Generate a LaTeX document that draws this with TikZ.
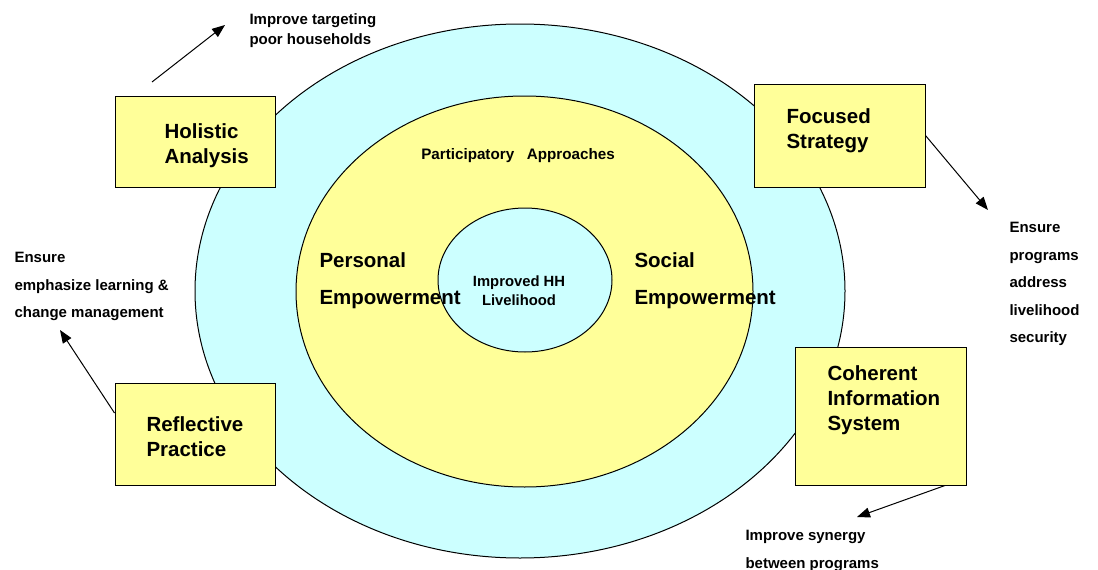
\documentclass[tikz,border=0pt]{standalone}
\usepackage{fontspec}
\setmainfont{Liberation Sans}
\usetikzlibrary{arrows.meta, shapes.geometric}
\definecolor{lightcyan}{HTML}{CCFFFF}
\definecolor{paleyellow}{HTML}{FFFF99}
\begin{document}
\begin{tikzpicture}[x=1pt, y=-1pt, line width=1pt,
    box/.style = {draw, fill=paleyellow, inner sep=0pt},
    boxtext/.style = {anchor=north west, align=left, inner sep=0pt, font=\fontsize{20.5}{25}\selectfont\bfseries},
    note/.style = {anchor=north west, align=left, inner sep=0pt, font=\fontsize{15}{27.5}\selectfont\bfseries},
    tip/.style = {-{Triangle[length=13pt, width=10pt]}}]
    \useasboundingbox (0,0) rectangle (1098,570);

    % rings
    \draw[fill=lightcyan] (520,291) ellipse [x radius=325, y radius=267];
    \draw[fill=paleyellow] (524.5,291.5) ellipse [x radius=228.5, y radius=195.5];
    \node[draw, ellipse, fill=lightcyan, minimum width=174, minimum height=144, inner sep=0pt] (hh) at (525,280) {};
    \node[align=center, inner sep=0pt, font=\fontsize{14.8}{19}\selectfont\bfseries] (hhtext) at (519,291) {Improved HH\\Livelihood};
    \node[inner sep=0pt, font=\fontsize{15.2}{18}\selectfont\bfseries] (pa) at (518,156) {Participatory\ \ \ Approaches};
    \node[boxtext, font=\fontsize{20.5}{37}\selectfont\bfseries] (pe) at (319,252) {Personal\\Empowerment};
    \node[boxtext, font=\fontsize{20.5}{37}\selectfont\bfseries] (se) at (634,252) {Social\\Empowerment};

    % boxes
    \node[box, minimum width=160, minimum height=91] (ha) at (195,141.5) {};
    \node[boxtext] (hatext) at (164,123) {Holistic\\Analysis};
    \node[box, minimum width=171, minimum height=103] (fs) at (839.5,135.5) {};
    \node[boxtext] (fstext) at (786,108) {Focused\\Strategy};
    \node[box, minimum width=160, minimum height=102] (rp) at (195,434) {};
    \node[boxtext] (rptext) at (146,416) {Reflective\\Practice};
    \node[box, minimum width=171, minimum height=138] (cis) at (880.5,416) {};
    \node[boxtext] (cistext) at (827,365) {Coherent\\Information\\System};

    % notes
    \node[note, font=\fontsize{15}{20}\selectfont\bfseries] (targeting) at (249,13) {Improve targeting\\poor households};
    \node[note] (security) at (1009,222) {Ensure\\programs\\address\\livelihood\\security};
    \node[note] (learning) at (14,252) {Ensure\\emphasize learning \&\\change management};
    \node[note] (synergy) at (745,530) {Improve synergy\\between programs};

    % arrows
    \coordinate (hatail) at (152,82);
    \coordinate (hahead) at (225,25);
    \coordinate (fshead) at (988,210);
    \coordinate (rphead) at (60,330);
    \coordinate (cishead) at (857,517);
    \draw[tip] (hatail) -- (hahead);
    \draw[tip] (fs.east) -- (fshead);
    \draw[tip] ([yshift=21pt]rp.west) -- (rphead);
    \draw[tip] ([xshift=64.5pt]cis.south) -- (cishead);
\end{tikzpicture}
\end{document}
